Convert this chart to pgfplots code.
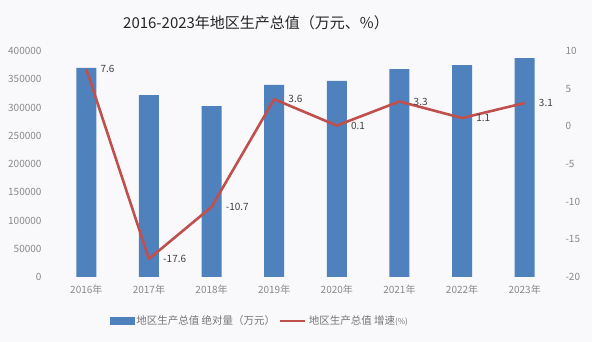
\documentclass[border=0pt]{standalone}
\usepackage{pgfplots}
\pgfplotsset{compat=1.18}
\usepackage{fontspec}
\setmainfont{Noto Sans CJK SC}
\definecolor{barblue}{RGB}{79,129,189}
\definecolor{linered}{RGB}{192,80,77}
\definecolor{bg}{RGB}{249,249,251}
\definecolor{ticktxt}{RGB}{137,137,137}
\definecolor{lbltxt}{RGB}{64,64,64}
\definecolor{legtxt}{RGB}{118,118,118}

\pgfplotstableread{
x val
0 370000
1 322000
2 302500
3 340000
4 347000
5 368000
6 375000
7 387500
}\bardata

\pgfplotstableread{
x rate label
0 7.6 7.6
1 -17.6 -17.6
2 -10.7 -10.7
3 3.6 3.6
4 0.1 0.1
5 3.3 3.3
6 1.1 1.1
7 3.1 3.1
}\linedata

\begin{document}
\begin{tikzpicture}[x=1pt,y=1pt]
\fill[bg] (0,0) rectangle (592,342);
\node[font=\fontsize{15}{18}\selectfont, text=black!85] at (256,319) {2016-2023年地区生产总值（万元、\%）};
\begin{axis}[
  at={(55pt,65pt)}, anchor=south west, scale only axis,
  width=501pt, height=226pt,
  xmin=-0.5, xmax=7.5, ymin=0, ymax=400000,
  ytick={0,50000,...,400000},
  xtick={0,...,7},
  xticklabels={2016年,2017年,2018年,2019年,2020年,2021年,2022年,2023年},
  axis y line*=left, axis x line*=bottom,
  axis line style={draw=none}, major tick length=0pt,
  scaled y ticks=false,
  /pgf/number format/assume math mode=true,
  yticklabel={\pgfmathprintnumber[fixed,1000 sep={}]{\tick}},
  yticklabel style={font=\fontsize{10}{12}\selectfont, text=ticktxt, xshift=-10pt},
  xticklabel style={font=\fontsize{10}{12}\selectfont, text=ticktxt, yshift=-5pt},
]
\addplot[ybar, bar width=20pt, fill=barblue, draw=none] table[x=x, y=val] {\bardata};
\end{axis}
\begin{axis}[
  at={(55pt,65pt)}, anchor=south west, scale only axis,
  width=501pt, height=226pt,
  xmin=-0.5, xmax=7.5, ymin=-20, ymax=10,
  ytick={-20,-15,...,10},
  axis y line*=right, axis x line=none,
  axis line style={draw=none}, major tick length=0pt,
  /pgf/number format/assume math mode=true,
  yticklabel style={font=\fontsize{10}{12}\selectfont, text=ticktxt, xshift=6pt},
  legend style={at={(0.409,-0.195)}, anchor=center, draw=none, fill=none,
    font=\fontsize{10.5}{12}\selectfont, text=legtxt,
    /tikz/every even column/.append style={column sep=2pt}},
  legend columns=2,
]
\addlegendimage{legend image code/.code={\fill[barblue] (0pt,-3.5pt) rectangle (24pt,3.5pt);}}
\addlegendentry{地区生产总值 绝对量（万元）}
\addplot[linered, line width=2.6pt, line join=round,
  point meta=explicit symbolic,
  nodes near coords,
  every node near coord/.append style={anchor=west, inner sep=0pt, xshift=13pt,
    font=\fontsize{10}{12}\selectfont, text=lbltxt},
  legend image code/.code={\draw[linered, line width=2.6pt] (0pt,0pt) -- (25pt,0pt);}
] table[x=x, y=rate, meta=label] {\linedata};
\addlegendentry{地区生产总值 增速{\fontsize{8}{9}\selectfont(\%)}}
\end{axis}
\end{tikzpicture}
\end{document}
